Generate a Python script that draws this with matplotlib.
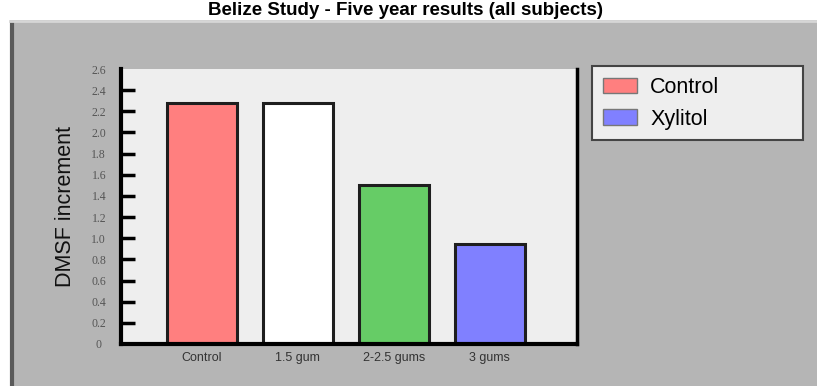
import matplotlib.pyplot as plt
from matplotlib.patches import Rectangle
from matplotlib.lines import Line2D

# DMFS increments after five years
groups = ['Control', '1.5 gum', '2-2.5 gums', '3 gums']
dmfs = [2.28, 2.28, 1.50, 0.95]
bar_colors = ['#ff7f7f', '#ffffff', '#66cc66', '#8080ff']
legend_labels = ['Control', 'Xylitol']
y_ticks = [0, 0.2, 0.4, 0.6, 0.8, 1.0, 1.2, 1.4, 1.6, 1.8, 2.0, 2.2, 2.4, 2.6]
y_tick_labels = ['0', '0.2', '0.4', '0.6', '0.8', '1.0', '1.2', '1.4', '1.6',
                 '1.8', '2.0', '2.2', '2.4', '2.6']

plt.rcParams['font.family'] = ['Liberation Sans', 'DejaVu Sans']

W, H = 817, 386
fig = plt.figure(figsize=(W / 100, H / 100), dpi=100, facecolor='white')

# grey panel behind the chart, with a dark left edge
fig.patches.append(Rectangle((10 / W, 0), 1, 1 - 20 / H, transform=fig.transFigure,
                             facecolor='#b5b5b5', edgecolor='none', zorder=0))
fig.lines.append(Line2D([12 / W, 12 / W], [0, 1 - 22 / H], transform=fig.transFigure,
                        color='#5a5a5a', lw=3, solid_capstyle='butt', zorder=1))
fig.lines.append(Line2D([10 / W, 1], [1 - 21 / H, 1 - 21 / H], transform=fig.transFigure,
                        color='#d6d6d6', lw=2, zorder=1))

fig.text(405 / W, 1 - 15 / H, 'Belize Study - Five year results (all subjects)',
         ha='center', va='baseline', fontsize=13.5, fontweight='bold', color='black')

ax = fig.add_axes([121 / W, 1 - 344 / H, 456 / W, 275 / H])
ax.set_zorder(3)
ax.set_facecolor('#eeeeee')

x = list(range(len(groups)))
bars = ax.bar(x, dmfs, width=0.73, color=bar_colors, edgecolor='#1e1e1e',
              linewidth=2.2, zorder=2)

ax.set_xlim(-0.84, 3.91)
ax.set_ylim(0, 2.6)
ax.set_xticks(x)
ax.set_xticklabels(groups, fontsize=9, color='#333333')
ax.tick_params(axis='x', length=0, pad=6)

ax.set_yticks(y_ticks)
ax.set_yticklabels(y_tick_labels, family='Liberation Serif', fontsize=8.5,
                   color='#555555')
ax.tick_params(axis='y', direction='in', length=10, width=2.5, color='black', pad=16)
for t in ax.yaxis.get_major_ticks():
    t.label1.set_horizontalalignment('center')
ax.yaxis.get_major_ticks()[0].tick1line.set_visible(False)
ax.yaxis.get_major_ticks()[-1].tick1line.set_visible(False)

ax.set_ylabel('DMSF increment', fontsize=15.5, color='#111111', labelpad=11)

ax.spines['top'].set_visible(False)
ax.spines['left'].set_linewidth(3)
ax.spines['bottom'].set_linewidth(3)
ax.spines['right'].set_linewidth(2.5)

leg = fig.legend([bars[0], bars[3]], legend_labels,
                 loc='upper left', bbox_to_anchor=(592 / W, 1 - 70 / H, 211 / W, 0.01),
                 mode='expand', fontsize=15.5, frameon=True, fancybox=False,
                 handlelength=1.6, handleheight=0.75, handletextpad=0.6,
                 labelspacing=0.5, borderpad=0.5, borderaxespad=0)
leg.get_frame().set_facecolor('#eeeeee')
leg.get_frame().set_edgecolor('#444444')
leg.get_frame().set_linewidth(1.5)
leg.get_frame().set_alpha(1)
for h in leg.legend_handles:
    h.set_linewidth(1)
    h.set_edgecolor('#777777')

fig.savefig('out.png', dpi=100, facecolor=fig.get_facecolor())
